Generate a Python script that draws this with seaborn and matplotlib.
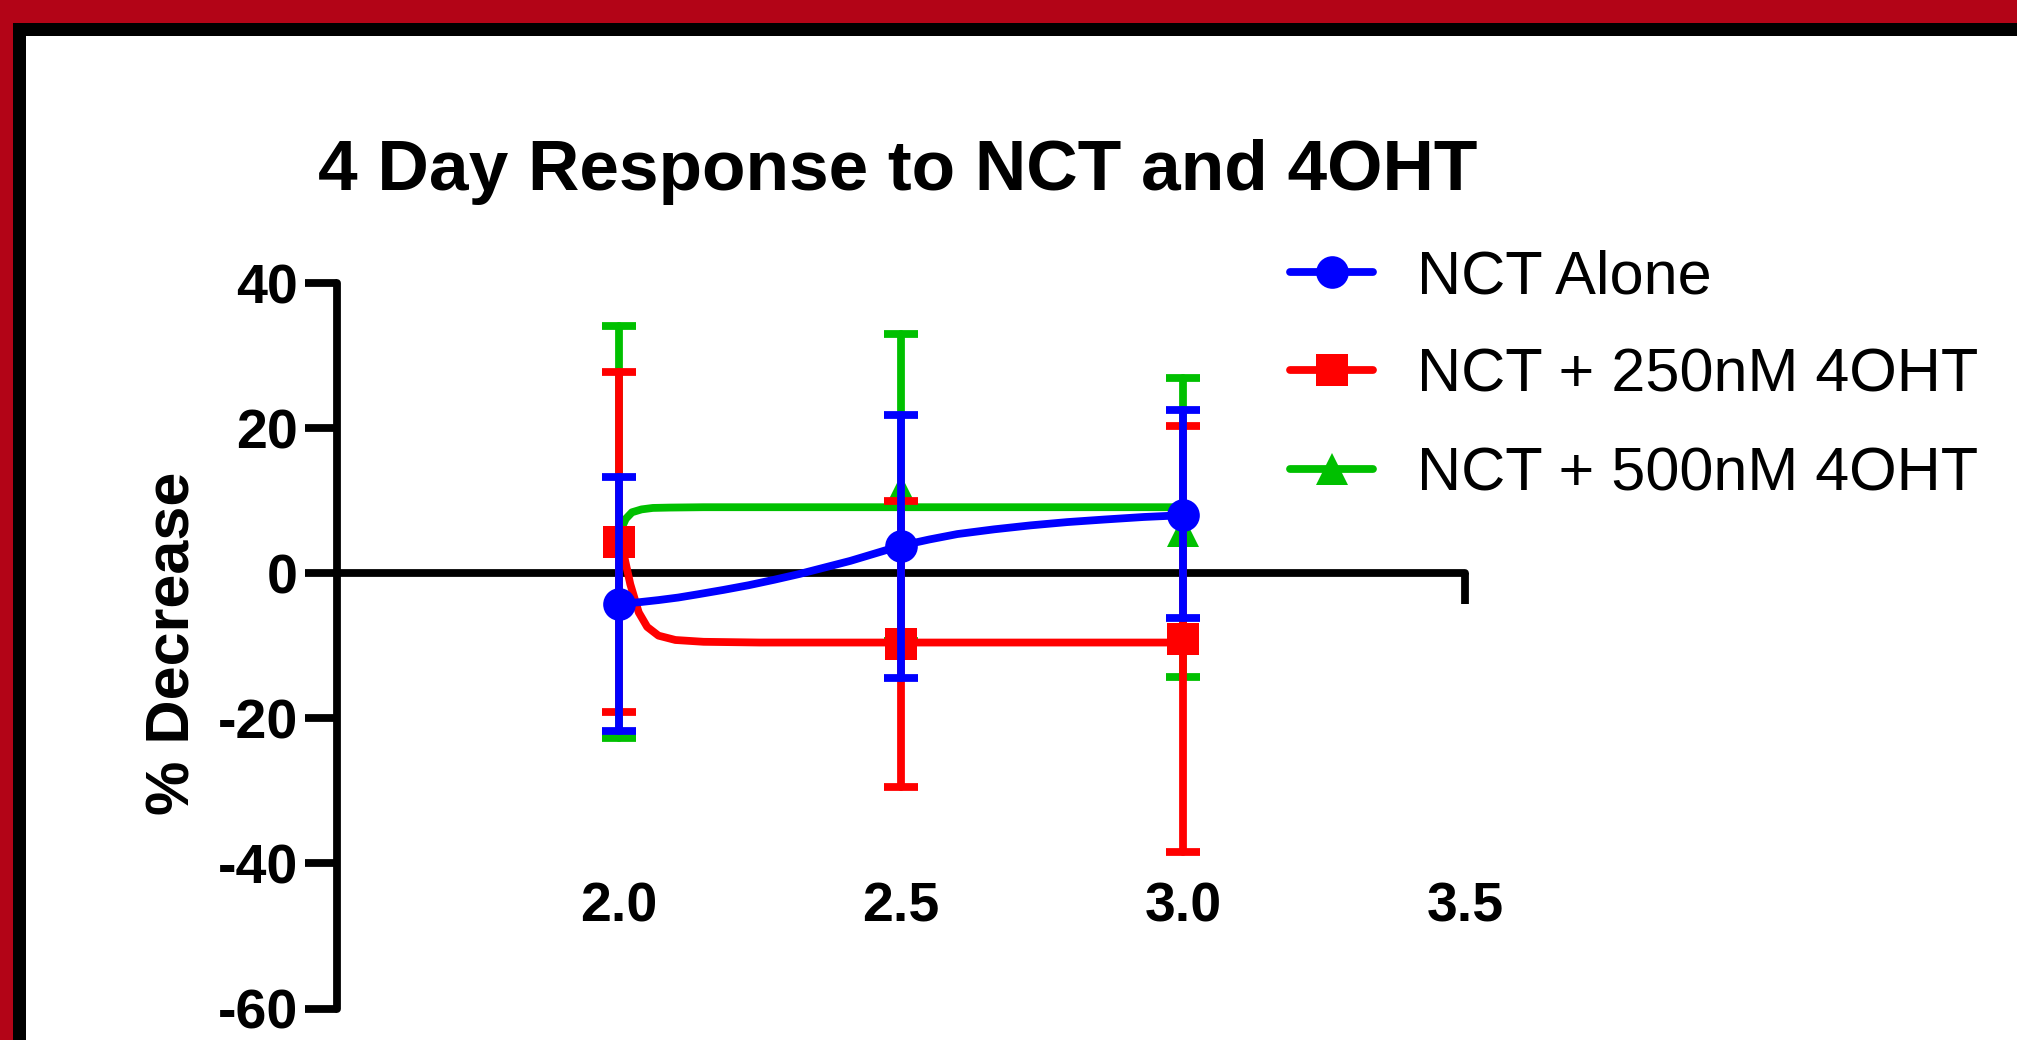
import matplotlib
matplotlib.use("Agg")
import matplotlib.pyplot as plt
import seaborn as sns
import pandas as pd
from matplotlib.lines import Line2D
from matplotlib.patches import Rectangle

# ---------------- data ----------------
title = "4 Day Response to NCT and 4OHT"
y_label = "% Decrease"
series_names = ["NCT Alone", "NCT + 250nM 4OHT", "NCT + 500nM 4OHT"]
doses = [2.0, 2.5, 3.0]

alone_mean = [-4.2, 3.8, 8.0]
alone_hi = [13.3, 21.8, 22.5]
alone_lo = [-21.7, -14.5, -6.2]

oht250_mean = [4.3, -9.7, -9.1]
oht250_hi = [27.7, 10.0, 20.3]
oht250_lo = [-19.1, -29.4, -38.4]

oht500_mean = [5.0, 11.3, 5.8]
oht500_hi = [34.1, 33.0, 26.9]
oht500_lo = [-22.7, -9.3, -14.3]

# fitted curves, points
fit_alone_x = [2.0, 2.035, 2.07, 2.105, 2.14, 2.185, 2.23, 2.275, 2.32, 2.365, 2.41, 2.455,
               2.5, 2.55, 2.6, 2.665, 2.73, 2.795, 2.86, 2.93, 3.0]
fit_alone_y = [-4.2, -4.0, -3.7, -3.35, -2.9, -2.3, -1.65, -0.9, -0.1, 0.8, 1.7, 2.75,
               3.8, 4.65, 5.4, 6.05, 6.6, 7.05, 7.4, 7.75, 8.0]
fit_250_x = [2.0, 2.009, 2.02, 2.035, 2.05, 2.07, 2.1, 2.15, 2.25, 2.5, 3.0]
fit_250_y = [4.3, 2.4, -1.5, -5.4, -7.4, -8.6, -9.2, -9.45, -9.55, -9.55, -9.55]
fit_500_x = [2.0, 2.005, 2.012, 2.023, 2.04, 2.06, 2.09, 2.15, 2.5, 3.0]
fit_500_y = [5.0, 6.3, 7.5, 8.4, 8.8, 9.0, 9.05, 9.1, 9.1, 9.1]

x_ticks = [2.0, 2.5, 3.0, 3.5]
x_tick_labels = ["2.0", "2.5", "3.0", "3.5"]
y_ticks = [-60, -40, -20, 0, 20, 40]
y_tick_labels = ["-60", "-40", "-20", "0", "20", "40"]

# ---------------- style ----------------
sns.set_style("white")
plt.rcParams["font.family"] = ["Liberation Sans", "DejaVu Sans"]
plt.rcParams["axes.unicode_minus"] = False
for k in ["text.color", "axes.labelcolor", "xtick.color", "ytick.color", "axes.edgecolor"]:
    plt.rcParams[k] = "black"

BLUE, RED, GREEN = "#0000FF", "#FF0000", "#00C000"
FRAME_RED = "#B30417"
LW = 5.6
MS = 23.5

W, H = 2017, 1040
fig = plt.figure(figsize=(W / 100, H / 100), dpi=100)
fig.patch.set_facecolor(FRAME_RED)
fig.add_artist(Rectangle((13 / W, 0), 1, (H - 23) / H, transform=fig.transFigure,
                         facecolor="black", edgecolor="none", zorder=-2))
fig.add_artist(Rectangle((26 / W, 0), 1, (H - 36) / H, transform=fig.transFigure,
                         facecolor="white", edgecolor="none", zorder=-1))

ax_l, ax_r = 337, 1465
ax_t, ax_b = 283, 1008.6
ax = fig.add_axes([ax_l / W, 1 - ax_b / H, (ax_r - ax_l) / W, (ax_b - ax_t) / H])
ax.patch.set_alpha(0)

series = [
    (series_names[2], oht500_mean, oht500_lo, oht500_hi, fit_500_x, fit_500_y, GREEN, "^", 3),
    (series_names[1], oht250_mean, oht250_lo, oht250_hi, fit_250_x, fit_250_y, RED, "s", 4),
    (series_names[0], alone_mean, alone_lo, alone_hi, fit_alone_x, fit_alone_y, BLUE, "o", 5),
]

for name, mean, lo, hi, fx, fy, col, mk, z in series:
    df = pd.DataFrame({"x": fx, "y": fy})
    sns.lineplot(data=df, x="x", y="y", ax=ax, color=col, linewidth=LW,
                 sort=False, estimator=None, zorder=z, solid_capstyle="round",
                 solid_joinstyle="round")
    yerr = [[m - l for m, l in zip(mean, lo)], [h - m for m, h in zip(mean, hi)]]
    eb = ax.errorbar(doses, mean, yerr=yerr, fmt=mk, ms=MS, color=col, ecolor=col,
                     elinewidth=LW, capsize=12.5, capthick=LW, zorder=z + 0.5)
    eb[0].set_markeredgewidth(0)
    for lc in eb[2]:
        lc.set_capstyle("round")

ax.set_xlim(1.5, 3.5)
ax.set_ylim(-60, 40)
ax.set_xlabel("")
ax.set_ylabel("")

for s in ["top", "right"]:
    ax.spines[s].set_visible(False)
for s in ["left", "bottom"]:
    ax.spines[s].set_linewidth(LW)
    ax.spines[s].set_color("black")
    ax.spines[s].set_capstyle("round")
ax.spines["bottom"].set_position(("data", 0))

ax.set_xticks(x_ticks, labels=x_tick_labels, fontweight="bold")
ax.set_yticks(y_ticks, labels=y_tick_labels, fontweight="bold")
ax.tick_params(axis="y", direction="out", length=23, width=LW, pad=5,
               labelsize=40, color="black", labelcolor="black", left=True)
ax.tick_params(axis="x", direction="out", length=22, width=LW, pad=200,
               labelsize=40, color="black", labelcolor="black", bottom=True)
ax.grid(False)

fig.text(898 / W, 1 - 190 / H, title, ha="center", va="baseline",
         fontsize=51.3, fontweight="bold", color="black")
fig.text(189 / W, 1 - 643 / H, y_label, rotation=90, rotation_mode="anchor",
         ha="center", va="baseline", fontsize=44, fontweight="bold", color="black")

handles = [
    Line2D([], [], color=BLUE, marker="o", ms=MS, lw=LW, markeredgewidth=0),
    Line2D([], [], color=RED, marker="s", ms=MS, lw=LW, markeredgewidth=0),
    Line2D([], [], color=GREEN, marker="^", ms=MS, lw=LW, markeredgewidth=0),
]
leg = ax.legend(handles, series_names, loc="upper left",
                bbox_to_anchor=(1290 / W, 1 - 249 / H), bbox_transform=fig.transFigure,
                frameon=False, fontsize=44, borderpad=0, borderaxespad=0,
                handlelength=1.36, handletextpad=0.72, labelspacing=0.68)
for t in leg.get_texts():
    t.set_color("black")

fig.savefig("out.png", dpi=100)
